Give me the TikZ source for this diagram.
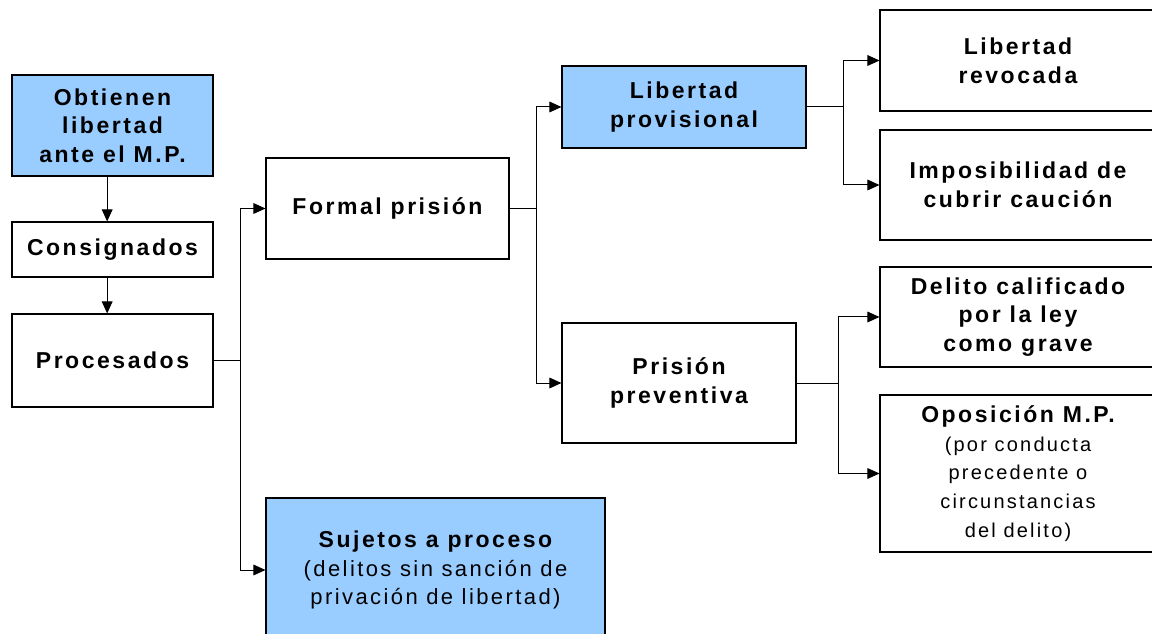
\documentclass[tikz,border=0pt]{standalone}
\usepackage{fontspec}
\setmainfont{Liberation Sans}[LetterSpace=11]
\usetikzlibrary{arrows.meta}
\definecolor{boxblue}{HTML}{99CCFF}
\newcommand\boxbf{\fontsize{17.25pt}{21.5pt}\selectfont\bfseries}
\newcommand\boxrm{\fontsize{15pt}{17.6pt}\selectfont\mdseries}
\newcommand\boxrmL{\fontsize{16.5pt}{22.5pt}\selectfont\mdseries}
\begin{document}
\begin{tikzpicture}[x=0.75pt,y=-0.75pt,
  box/.style={draw=black, line width=0.8pt, rectangle, inner sep=0pt, align=center, font=\boxbf, text=black},
  bluebox/.style={box, fill=boxblue},
  link/.style={line width=0.75pt, draw=black},
  arr/.style={link, -{Triangle[length=9pt,width=8pt]}},
]
\clip (0,0) rectangle (1152,634);
\fill[white] (0,0) rectangle (1152,634);

% left column
\node[bluebox, minimum width=150.75pt, minimum height=75.75pt] (A) at (112.5,125.5) {Obtienen\\libertad\\ante el M.P.};
\node[box, minimum width=150.75pt, minimum height=41.25pt] (B) at (112.5,249.5) {Consignados};
\node[box, minimum width=150.75pt, minimum height=69.75pt] (C) at (112.5,360.5) {Procesados};

% second column
\node[box, minimum width=182.25pt, minimum height=75.75pt] (D) at (387.5,208.5) {Formal prisión};
\node[bluebox, minimum width=254.25pt, minimum height=108pt] (G) at (435.5,570)
  {\fontsize{17.25pt}{22.5pt}\selectfont\bfseries Sujetos a proceso\\
   \boxrmL (delitos sin sanción de\\
   \boxrmL privación de libertad)};

% third column
\node[bluebox, minimum width=183pt, minimum height=61.5pt] (E) at (684,107) {Libertad\\provisional};
\node[box, minimum width=175.5pt, minimum height=90pt] (F) at (679,383) {Prisión\\preventiva};

% fourth column
\node[box, minimum width=207pt, minimum height=75.75pt] (H) at (1018,60.5) {Libertad\\revocada};
\node[box, minimum width=207pt, minimum height=82.5pt] (I) at (1018,185) {Imposibilidad de\\cubrir caución};
\node[box, minimum width=207pt, minimum height=75pt] (J) at (1018,317) {Delito calificado\\por la ley\\como grave};
\node[box, minimum width=207pt, minimum height=117.75pt] (K) at (1018,473.5)
  {\fontsize{17.25pt}{18.75pt}\selectfont\bfseries Oposición M.P.\\
   \boxrm (por conducta\\
   \boxrm precedente o\\
   \boxrm circunstancias\\
   \boxrm del delito)};

% junctions
\coordinate (j1) at (240,360.5);
\coordinate (j2) at (536,208.5);
\coordinate (j3) at (843,107);
\coordinate (j4) at (838,383);

% connectors
\draw[arr] ([xshift=-4pt]A.south) -- ([xshift=-4pt]B.north);
\draw[arr] ([xshift=-4pt]B.south) -- ([xshift=-4pt]C.north);

\draw[link] (C.east) -- (j1);
\draw[arr] (j1) |- (D.west);
\draw[arr] (j1) |- (G.west);

\draw[link] (D.east) -- (j2);
\draw[arr] (j2) |- (E.west);
\draw[arr] (j2) |- (F.west);

\draw[link] (E.east) -- (j3);
\draw[arr] (j3) |- (H.west);
\draw[arr] (j3) |- (I.west);

\draw[link] (F.east) -- (j4);
\draw[arr] (j4) |- (J.west);
\draw[arr] (j4) |- (K.west);
\end{tikzpicture}
\end{document}
